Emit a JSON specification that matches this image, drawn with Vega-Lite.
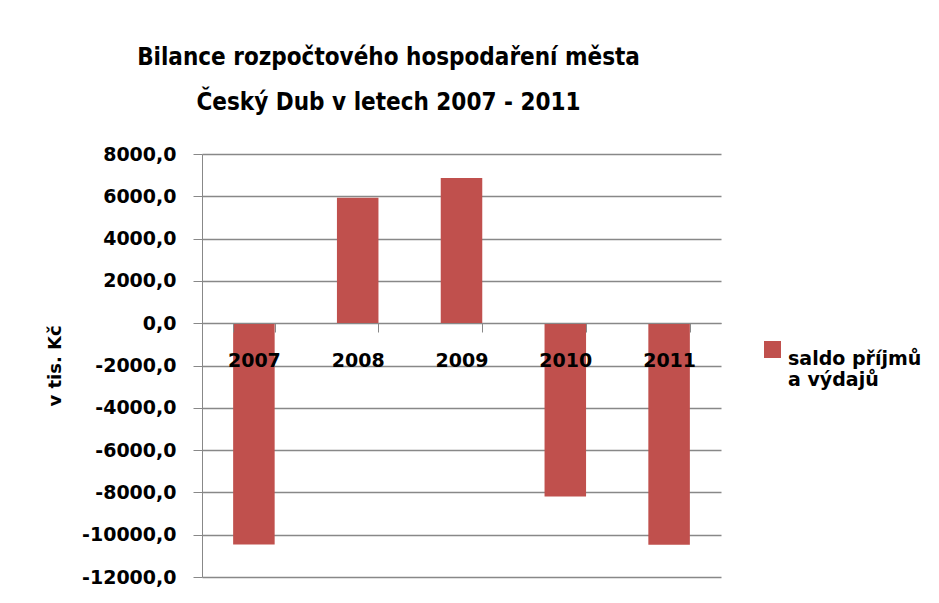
{
  "$schema": "https://vega.github.io/schema/vega-lite/v6.json",
  "autosize": {"type": "none"},
  "width": 519,
  "height": 423,
  "padding": {"left": 202, "top": 154, "right": 218, "bottom": 26},
  "background": "white",
  "title": {
    "text": ["Bilance rozpočtového hospodaření města", "Český Dub v letech 2007 - 2011"],
    "font": "DejaVu Sans Condensed",
    "fontSize": 24,
    "fontWeight": "bold",
    "color": "#000000",
    "lineHeight": 45,
    "anchor": "middle",
    "frame": "group",
    "dx": -73,
    "offset": 30
  },
  "data": {
    "values": [
      {"rok": "2007", "saldo": -10460, "serie": "saldo příjmů a výdajů"},
      {"rok": "2008", "saldo": 5930, "serie": "saldo příjmů a výdajů"},
      {"rok": "2009", "saldo": 6870, "serie": "saldo příjmů a výdajů"},
      {"rok": "2010", "saldo": -8190, "serie": "saldo příjmů a výdajů"},
      {"rok": "2011", "saldo": -10480, "serie": "saldo příjmů a výdajů"}
    ]
  },
  "mark": {"type": "bar"},
  "encoding": {
    "x": {
      "field": "rok",
      "type": "nominal",
      "sort": null,
      "scale": {"paddingInner": 0.6, "paddingOuter": 0.3},
      "axis": {
        "title": null,
        "offset": -254,
        "labelAngle": 0,
        "labelFont": "DejaVu Sans",
        "labelFontSize": 19,
        "labelFontWeight": "bold",
        "labelColor": "#000000",
        "labelPadding": 19,
        "tickBand": "extent",
        "tickSize": 9,
        "tickColor": "#888888",
        "domainColor": "#888888",
        "grid": false,
        "zindex": 1
      }
    },
    "y": {
      "field": "saldo",
      "type": "quantitative",
      "scale": {"domain": [-12000, 8000], "nice": false, "zero": false},
      "axis": {
        "title": "v tis. Kč",
        "titleFont": "DejaVu Sans",
        "titleFontSize": 18,
        "titleFontWeight": "bold",
        "titleColor": "#000000",
        "titlePadding": 17,
        "values": [-12000, -10000, -8000, -6000, -4000, -2000, 0, 2000, 4000, 6000, 8000],
        "labelExpr": "(datum.value < 0 ? '-' : '') + replace(format(abs(datum.value), '.1f'), '.', ',')",
        "labelFont": "DejaVu Sans",
        "labelFontSize": 19,
        "labelFontWeight": "bold",
        "labelColor": "#000000",
        "labelPadding": 17,
        "tickSize": 9,
        "tickColor": "#888888",
        "domainColor": "#888888",
        "grid": true,
        "gridColor": "#888888",
        "gridWidth": 1.5
      }
    },
    "color": {
      "field": "serie",
      "type": "nominal",
      "scale": {"range": ["#C0504D"]},
      "legend": {
        "title": null,
        "orient": "none",
        "legendX": 561,
        "legendY": 186,
        "symbolType": "square",
        "symbolSize": 289,
        "symbolStrokeWidth": 0,
        "labelFont": "DejaVu Sans",
        "labelFontSize": 19,
        "labelFontWeight": "bold",
        "labelColor": "#000000",
        "labelOffset": 6,
        "labelLimit": 300,
        "labelBaseline": "top",
        "labelExpr": "['saldo příjmů', 'a výdajů']"
      }
    }
  },
  "config": {
    "view": {"stroke": null}
  }
}
